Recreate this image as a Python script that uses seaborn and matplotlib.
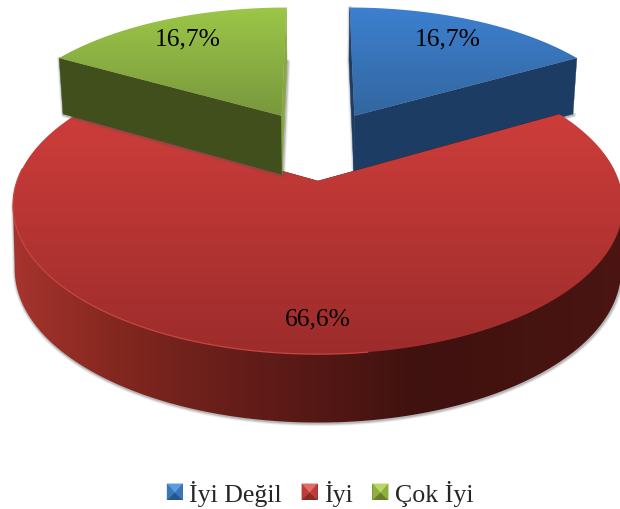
import numpy as np
import matplotlib
matplotlib.use("Agg")
import matplotlib.pyplot as plt
from matplotlib.collections import PolyCollection
from matplotlib.legend_handler import HandlerBase
from matplotlib.patches import Patch, Polygon
import seaborn as sns

# ---- data
categories = ["İyi Değil", "İyi", "Çok İyi"]
values = [16.7, 66.6, 16.7]

# ---- style
top_colors = [("#3d80d0", "#33669f"), ("#cd3d3a", "#9c2c2b"), ("#9cc748", "#78973c")]
wall_colors = ["#a8342f", "#84281f", "#6a1f1b", "#551815", "#3f110f", "#451310", "#4a1512"]
radial_colors = [("#1c3c63", "#1c3c63"), ("#551815", "#551815"), ("#414f1c", "#86a842")]
legend_colors = [("#5b9be0", "#3b76bb", "#2a558c"),
                 ("#e06a66", "#bd3c39", "#8a2a28"),
                 ("#b9d667", "#8fb03f", "#66802c")]

sns.set_theme(style="white")
plt.rcParams["font.family"] = ["Liberation Serif", "DejaVu Serif"]
FONT = 18.4
LEGEND_FONT = 18.6

# ---- perspective view of the pie plane
CX, CY, SX, SY, K = 318.0, 182.0, 301.0, 145.0, 0.1625
DEPTH, KD = 61.5, 0.1015
EXPLODE = 0.26
BASE_V = -0.26
LABEL_R_U, LABEL_R_V = 0.77, 0.81
LABEL_DY = 1.8


def top_xy(u, v):
    w = 1 - K * np.asarray(v)
    return CX + SX * np.asarray(u) / w, CY + SY * np.asarray(v) / w


def bottom_xy(u, v):
    x, y = top_xy(u, v)
    shrink = np.minimum(0.993 + 0.008 * np.asarray(v), 0.998)
    return CX + (x - CX) * shrink, y + DEPTH / (1 - KD * np.asarray(v))


def gradient_fill(outline, colors, horizontal, zorder, x_span=None):
    clip = Polygon(outline, closed=True, facecolor="none", edgecolor="none",
                   transform=ax.transData)
    ax.add_patch(clip)
    cmap = sns.blend_palette(colors, as_cmap=True)
    xa, xb = x_span if x_span else (outline[:, 0].min(), outline[:, 0].max())
    ya, yb = outline[:, 1].min(), outline[:, 1].max()
    ramp = np.linspace(0, 1, 256)
    data = ramp[None, :] if horizontal else ramp[:, None]
    im = ax.imshow(data, cmap=cmap, aspect="auto", extent=(xa, xb, yb, ya),
                   origin="upper", zorder=zorder, interpolation="bilinear")
    im.set_clip_path(clip)


fig = plt.figure(figsize=(6.2, 5.1), dpi=100)
ax = fig.add_axes([0, 0, 1, 1])
ax.set_xlim(0, 620)
ax.set_ylim(510, 0)
ax.axis("off")

edges = np.radians(np.concatenate([[0], np.cumsum(values)]) / np.sum(values) * 360)
for i in [2, 0, 1]:
    a0, a1 = edges[i], edges[i + 1]
    mid = (a0 + a1) / 2
    large = values[i] > 50
    ou, ov = EXPLODE * np.sin(mid), BASE_V - EXPLODE * np.cos(mid)
    th = np.linspace(a0, a1, int(np.degrees(a1 - a0)) + 2)
    au, av = ou + np.sin(th), ov - np.cos(th)
    tx, ty = top_xy(au, av)
    bx, by = bottom_xy(au, av)
    ax0, ay0 = top_xy(ou, ov)
    bx0, by0 = bottom_xy(ou, ov)

    # lower silhouette, also the outline of the visible outer wall
    if large:
        ir, il = int(np.argmax(tx)), int(np.argmin(tx))
        sx = np.r_[tx[ir], bx[ir:il + 1], tx[il]]
        sy = np.r_[ty[ir], by[ir:il + 1], ty[il]]
    else:
        sx = np.array([tx[0], bx[0], bx0, bx[-1]])
        sy = np.array([ty[0], by[0], by0, by[-1]])

    # soft drop shadow just outside the lower edges
    for lw, alpha in [(4.0, 0.10), (2.6, 0.16), (1.4, 0.22)]:
        ax.plot(sx + 0.6, sy + 0.8, color="#555555", lw=lw, alpha=alpha,
                zorder=i * 3 + 1, solid_joinstyle="round")

    # outer wall (only the large slice shows it)
    if large:
        gradient_fill(np.column_stack([sx, sy]), wall_colors, True, i * 3 + 2, x_span=(10, 625))

    # radial faces
    radial = [[(ax0, ay0), (tx[0], ty[0]), (bx[0], by[0]), (bx0, by0)],
              [(ax0, ay0), (tx[-1], ty[-1]), (bx[-1], by[-1]), (bx0, by0)]]
    ax.add_collection(PolyCollection(radial, facecolors=radial_colors[i],
                                     edgecolors=radial_colors[i], linewidths=0.3,
                                     zorder=i * 3 + 2.5))

    # top surface with vertical gradient
    outline = np.column_stack([np.r_[ax0, tx], np.r_[ay0, ty]])
    gradient_fill(outline, top_colors[i], False, i * 3 + 3)

    # rim highlight on the front-left of the pie
    if large:
        front = (av > -0.1) & (au < 0.15)
        ax.plot(tx[front], ty[front], color="#c8463f", lw=0.9, zorder=i * 3 + 3.5,
                solid_capstyle="round")

    # value label
    lx, ly = top_xy(ou + LABEL_R_U * np.sin(mid), ov - LABEL_R_V * np.cos(mid))
    ax.text(lx, ly + LABEL_DY, f"{values[i]:.1f}%".replace(".", ","), ha="center", va="center",
            fontsize=FONT, color="black", zorder=20)

ax.set_xlim(0, 620)
ax.set_ylim(510, 0)


class Bevel(HandlerBase):
    def create_artists(self, legend, orig_handle, xdescent, ydescent, width, height,
                       fontsize, trans):
        light, mid_c, dark = orig_handle.shades
        x0, y0 = -xdescent, -ydescent
        x1, y1 = x0 + width, y0 + height
        xc = (x0 + x1) / 2
        yc = y0 + height * 0.45
        parts = [
            Polygon([(x0, y0), (x1, y0), (x1, y1), (x0, y1)], facecolor=dark),
            Polygon([(x0, y0), (xc, yc), (x0, y1)], facecolor=mid_c),
            Polygon([(x1, y0), (xc, yc), (x1, y1)], facecolor=mid_c),
            Polygon([(x0, y1), (x1, y1), (xc, yc)], facecolor=light),
        ]
        for p in parts:
            p.set_transform(trans)
            p.set_edgecolor("none")
        return parts


handles = []
for name, shades in zip(categories, legend_colors):
    h = Patch(label=name)
    h.shades = shades
    handles.append(h)

leg = ax.legend(handles=handles, loc="center", bbox_to_anchor=(320 / 620, 1 - 494 / 510),
                ncol=3, frameon=False, fontsize=LEGEND_FONT, handlelength=0.62,
                handleheight=0.62, handletextpad=0.24, columnspacing=0.77, borderpad=0,
                borderaxespad=0, handler_map={Patch: Bevel()})

fig.savefig("out.png", dpi=100, facecolor="white")
